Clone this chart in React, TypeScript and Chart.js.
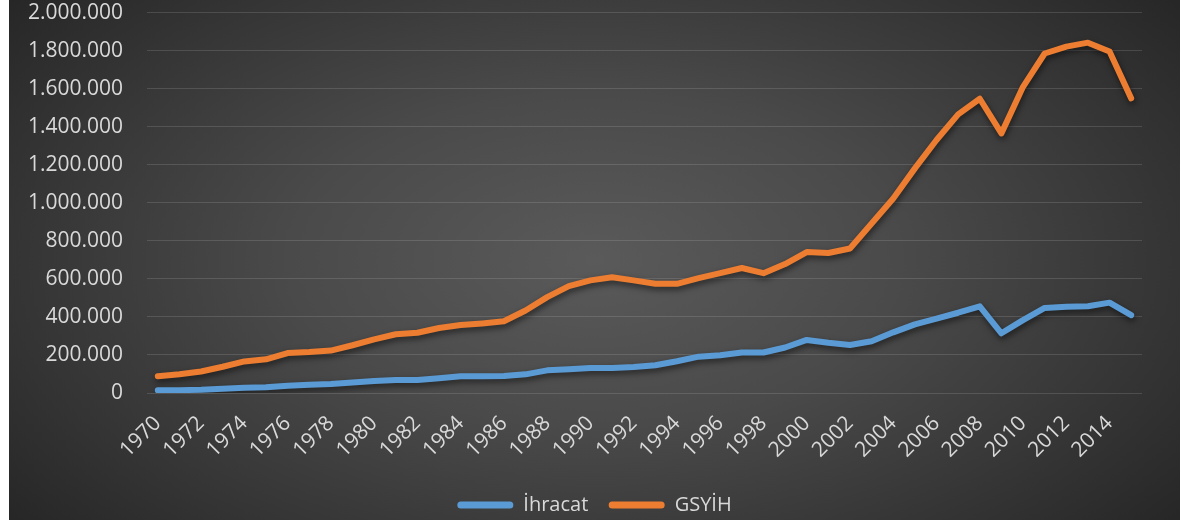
import React, { useEffect, useRef } from "react";
import { Chart, registerables } from "chart.js";

Chart.register(...registerables);

const years: string[] = [
  "1970", "1971", "1972", "1973", "1974", "1975", "1976", "1977", "1978", "1979",
  "1980", "1981", "1982", "1983", "1984", "1985", "1986", "1987", "1988", "1989",
  "1990", "1991", "1992", "1993", "1994", "1995", "1996", "1997", "1998", "1999",
  "2000", "2001", "2002", "2003", "2004", "2005", "2006", "2007", "2008", "2009",
  "2010", "2011", "2012", "2013", "2014", "2015",
];

const ihracat: number[] = [
  14000, 15000, 17000, 22000, 28000, 30000, 38000, 43000, 47000, 55000,
  63000, 68000, 68000, 77000, 88000, 88000, 89000, 98000, 119000, 125000,
  132000, 132000, 137000, 146000, 167000, 191000, 199000, 213000, 213000, 239000,
  279000, 264000, 252000, 272000, 319000, 361000, 391000, 422000, 456000, 314000,
  383000, 447000, 453000, 456000, 475000, 409000,
];

const gsyih: number[] = [
  88000, 99000, 113000, 138000, 166000, 177000, 210000, 215000, 223000, 251000,
  282000, 309000, 317000, 342000, 357000, 366000, 377000, 434000, 504000, 562000,
  592000, 609000, 592000, 574000, 574000, 604000, 630000, 657000, 630000, 678000,
  741000, 736000, 760000, 891000, 1023000, 1181000, 1330000, 1465000, 1547000, 1365000,
  1610000, 1785000, 1821000, 1842000, 1795000, 1549000,
];

const seriesNames: string[] = ["İhracat", "GSYİH"];
const seriesColors: string[] = ["#5B9BD5", "#ED7D31"];

const FONT = "'Open Sans', 'DejaVu Sans', sans-serif";
const TEXT = "#d9d9d9";

function fmt(v: number): string {
  return String(Math.round(v)).replace(/\B(?=(\d{3})+(?!\d))/g, ".");
}

const shadowPlugin = {
  id: "lineShadow",
  beforeDatasetDraw(chart: any) {
    const ctx = chart.ctx;
    ctx.save();
    ctx.shadowColor = "rgba(0,0,0,0.55)";
    ctx.shadowBlur = 6;
    ctx.shadowOffsetX = 1;
    ctx.shadowOffsetY = 3;
  },
  afterDatasetDraw(chart: any) {
    chart.ctx.restore();
  },
};

export default function App() {
  const ref = useRef<HTMLCanvasElement | null>(null);

  useEffect(() => {
    if (!ref.current) return;
    const chart = new Chart(ref.current, {
      type: "line",
      data: {
        labels: years,
        datasets: [
          {
            label: seriesNames[0],
            data: ihracat,
            borderColor: seriesColors[0],
            backgroundColor: seriesColors[0],
            borderWidth: 6,
            pointRadius: 0,
            borderCapStyle: "round",
            borderJoinStyle: "round",
            tension: 0,
          },
          {
            label: seriesNames[1],
            data: gsyih,
            borderColor: seriesColors[1],
            backgroundColor: seriesColors[1],
            borderWidth: 6,
            pointRadius: 0,
            borderCapStyle: "round",
            borderJoinStyle: "round",
            tension: 0,
          },
        ],
      },
      options: {
        responsive: false,
        animation: false,
        layout: { padding: 0 },
        plugins: {
          tooltip: { enabled: false },
          legend: {
            position: "bottom",
            labels: {
              color: TEXT,
              font: { family: FONT, size: 20 },
              boxWidth: 56,
              boxHeight: 7,
              useBorderRadius: true,
              borderRadius: 3.5,
              padding: 10,
              generateLabels: (c: any) =>
                Chart.defaults.plugins.legend.labels
                  .generateLabels(c)
                  .map((l: any, i: number) => ({
                    ...l,
                    text: i === 0 ? l.text + "  " : l.text,
                    lineWidth: 0,
                    strokeStyle: "rgba(0,0,0,0)",
                  })),
            },
          },
        },
        scales: {
          x: {
            type: "category",
            offset: true,
            grid: { display: false, drawTicks: false },
            border: { display: false },
            ticks: {
              color: TEXT,
              font: { family: FONT, size: 21 },
              autoSkip: false,
              minRotation: 45,
              maxRotation: 45,
              padding: 18,
              callback: (_v: any, i: number) => (i % 2 === 0 ? years[i] : ""),
            },
            afterFit: (s: any) => {
              s.height = 92;
            },
          },
          y: {
            min: 0,
            max: 2000000,
            grid: {
              color: "rgba(217,217,217,0.16)",
              lineWidth: 1,
              drawTicks: true,
              tickLength: 24,
              tickColor: "rgba(0,0,0,0)",
            },
            border: { display: false },
            ticks: {
              stepSize: 200000,
              color: TEXT,
              font: { family: FONT, size: 21 },
              padding: 0,
              callback: (v: any) => fmt(Number(v)),
            },
            afterFit: (s: any) => {
              s.width = 138;
            },
          },
          yRight: {
            position: "right",
            display: true,
            min: 0,
            max: 1,
            grid: { display: false, drawTicks: false },
            border: { display: false },
            ticks: { display: false },
            afterFit: (s: any) => {
              s.width = 38;
            },
          },
        },
      },
      plugins: [shadowPlugin],
    } as any);
    return () => chart.destroy();
  }, []);

  return (
    <div
      style={{
        position: "absolute",
        left: 9,
        top: 0,
        width: 1171,
        height: 520,
        overflow: "hidden",
        background:
          "radial-gradient(ellipse 65% 80% at 50% 50%, #5a5a5a 0%, #4a4a4a 40%, #262626 100%)",
      }}
    >
      <canvas ref={ref} width={1171} height={525} style={{ display: "block" }} />
    </div>
  );
}
